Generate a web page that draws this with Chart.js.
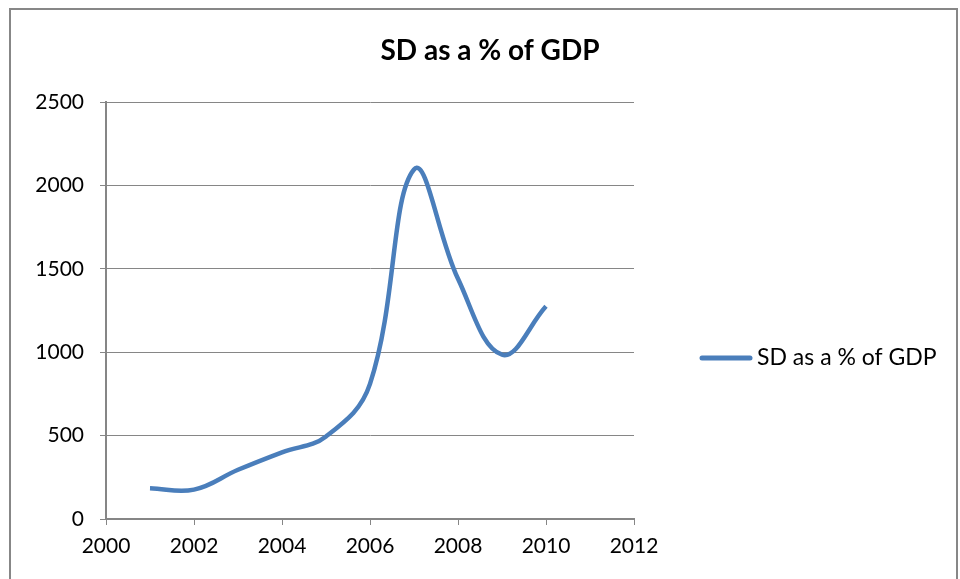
<!DOCTYPE html>
<html lang="en">
<head>
    <meta charset="UTF-8">
    <title>SD as a % of GDP</title>
    <style>
        body {
            margin: 0;
            background: #fff;
        }
        .container {
            position: relative;
            width: 960px;
            height: 579px;
        }
    </style>
</head>
<body>
    <div class="container">
        <canvas id="myChart" width="960" height="579"></canvas>
    </div>

    <script src="https://cdn.jsdelivr.net/npm/chart.js"></script>
    <script>
        // values
        const years = [2001, 2002, 2003, 2004, 2005, 2006, 2007, 2008, 2009, 2010];
        const sdValues = [185, 176, 295, 400, 495, 810, 2095, 1440, 985, 1275];
        const seriesLabel = 'SD as a % of GDP';
        const chartTitle = 'SD as a % of GDP';
        const xTicks = [2000, 2002, 2004, 2006, 2008, 2010, 2012];
        const yTicks = [0, 500, 1000, 1500, 2000, 2500];

        const lineColor = '#4a7ebb';
        const gridColor = '#868686';
        const fontFamily = 'Lato, "Open Sans", sans-serif';

        // title, legend and outer frame drawn by hand
        const decorations = {
            id: 'decorations',
            beforeDraw(chart) {
                const ctx = chart.ctx;
                ctx.save();
                ctx.strokeStyle = '#878787';
                ctx.lineWidth = 2;
                ctx.strokeRect(10, 9, 947, 580);
                ctx.restore();
            },
            afterDraw(chart) {
                const ctx = chart.ctx;
                ctx.save();
                ctx.fillStyle = '#000';
                ctx.font = 'bold 28px ' + fontFamily;
                ctx.textAlign = 'center';
                ctx.textBaseline = 'middle';
                ctx.fillText(chartTitle, 490, 51);

                const ds = chart.data.datasets[0];
                ctx.strokeStyle = ds.borderColor;
                ctx.lineWidth = 5;
                ctx.lineCap = 'round';
                ctx.beginPath();
                ctx.moveTo(702, 358);
                ctx.lineTo(750, 358);
                ctx.stroke();
                ctx.font = '23px ' + fontFamily;
                ctx.textAlign = 'left';
                ctx.fillText(ds.label, 757, 358);
                ctx.restore();
            }
        };

        const ctx = document.getElementById('myChart').getContext('2d');
        const myChart = new Chart(ctx, {
            type: 'line',
            data: {
                datasets: [{
                    label: seriesLabel,
                    data: years.map((y, i) => ({ x: y, y: sdValues[i] })),
                    borderColor: lineColor,
                    backgroundColor: lineColor,
                    borderWidth: 4.5,
                    pointRadius: 0,
                    tension: 0.4,
                    fill: false
                }]
            },
            options: {
                responsive: false,
                animation: false,
                layout: {
                    padding: { left: 0, top: 102, right: 326, bottom: 0 }
                },
                plugins: {
                    legend: { display: false },
                    title: { display: false },
                    tooltip: { enabled: false }
                },
                scales: {
                    x: {
                        type: 'linear',
                        min: 2000,
                        max: 2012,
                        afterBuildTicks: (scale) => {
                            scale.ticks = xTicks.map(v => ({ value: v }));
                        },
                        afterFit: (scale) => { scale.height = 60; },
                        grid: {
                            drawOnChartArea: false,
                            drawTicks: true,
                            tickLength: 6,
                            color: gridColor
                        },
                        border: { color: gridColor, width: 2 },
                        ticks: {
                            color: '#000',
                            padding: 9,
                            maxRotation: 0,
                            font: { family: fontFamily, size: 21 },
                            callback: (v) => String(v)
                        }
                    },
                    y: {
                        min: 0,
                        max: 2500,
                        afterBuildTicks: (scale) => {
                            scale.ticks = yTicks.map(v => ({ value: v }));
                        },
                        afterFit: (scale) => { scale.width = 106; },
                        grid: {
                            drawTicks: true,
                            tickLength: 6,
                            color: gridColor
                        },
                        border: { color: gridColor, width: 2 },
                        ticks: {
                            color: '#000',
                            padding: 16,
                            font: { family: fontFamily, size: 21 },
                            callback: (v) => String(v)
                        }
                    }
                }
            },
            plugins: [decorations]
        });
    </script>
</body>
</html>
